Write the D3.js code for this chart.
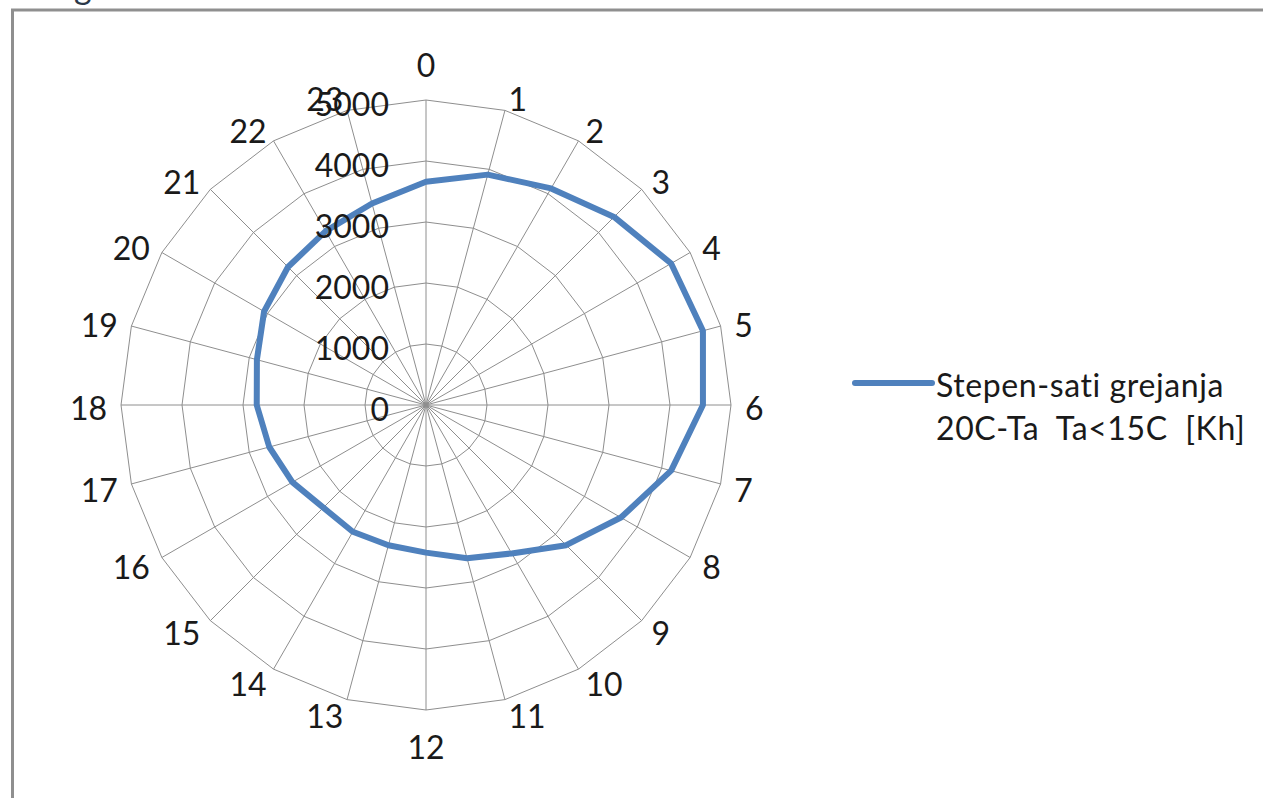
<!DOCTYPE html>
<html>
<head>
<meta charset="utf-8">
<script src="https://cdn.jsdelivr.net/npm/d3@7"></script>
<style>
  html, body { margin: 0; padding: 0; background: #fff; }
  svg { display: block; }
  text { font-family: Lato, "Open Sans", sans-serif; fill: #1a1a1a; }
</style>
</head>
<body>
<svg id="chart" width="1263" height="798"></svg>
<script>
// Hours of the day (radar spokes)
const hours = ["0","1","2","3","4","5","6","7","8","9","10","11",
               "12","13","14","15","16","17","18","19","20","21","22","23"];
// Heating degree-hours per hour of day, 20C - Ta where Ta < 15C [Kh]
const degreeHours = [3660, 3910, 4100, 4360, 4640, 4700, 4540, 4160,
                     3690, 3250, 2810, 2600, 2420, 2380, 2400, 2380,
                     2530, 2660, 2775, 2870, 3065, 3200, 3290, 3420];
// Radial axis ticks
const radialTicks = [0, 1000, 2000, 3000, 4000, 5000];
const seriesName = ["Stepen-sati grejanja", "20C-Ta  Ta<15C  [Kh]"];

const svg = d3.select("#chart");
const cx = 426, cy = 405, R = 305;
const fontSize = 32;

const r = d3.scaleLinear().domain([0, 5000]).range([0, R]);
const angle = d3.scaleLinear().domain([0, hours.length]).range([0, 2 * Math.PI]);

// Frame of the chart area
svg.append("path")
  .attr("d", "M12.5,798 V10 H1263")
  .attr("fill", "none")
  .attr("stroke", "#8f8f8f")
  .attr("stroke-width", 3);

// Heading above the chart frame (only its lower edge is inside the view)
svg.append("text")
  .attr("x", 74).attr("y", -1)
  .attr("font-size", 34)
  .style("fill", "#2b3849")
  .text("g");

const g = svg.append("g").attr("transform", `translate(${cx},${cy})`);

// Polygonal rings
const ringLine = d3.lineRadial()
  .angle((d, i) => angle(i))
  .radius(d => r(d))
  .curve(d3.curveLinearClosed);

g.selectAll("path.ring")
  .data(radialTicks.filter(t => t > 0))
  .join("path")
  .attr("class", "ring")
  .attr("d", t => ringLine(hours.map(() => t)))
  .attr("fill", "none")
  .attr("stroke", "#8e8e8e")
  .attr("stroke-width", 1);

// Spokes
g.selectAll("line.spoke")
  .data(hours)
  .join("line")
  .attr("class", "spoke")
  .attr("x1", 0).attr("y1", 0)
  .attr("x2", (d, i) => Math.sin(angle(i)) * r(5000))
  .attr("y2", (d, i) => -Math.cos(angle(i)) * r(5000))
  .attr("stroke", "#8e8e8e")
  .attr("stroke-width", 1);

// Series line
g.append("path")
  .datum(degreeHours)
  .attr("d", ringLine)
  .attr("fill", "none")
  .attr("stroke", "#4f81bd")
  .attr("stroke-width", 6)
  .attr("stroke-linejoin", "round");

// Radial value labels along the 0 spoke
g.selectAll("text.tick")
  .data(radialTicks)
  .join("text")
  .attr("class", "tick")
  .attr("x", -37)
  .attr("y", t => -r(t) + 3)
  .attr("text-anchor", "end")
  .attr("dominant-baseline", "central")
  .attr("font-size", fontSize)
  .text(t => t);

// Hour labels around the outer ring
const gap = 14;
g.selectAll("text.hour")
  .data(hours)
  .join("text")
  .attr("class", "hour")
  .each(function (d, i) {
    const a = angle(i);
    const s = Math.sin(a), c = Math.cos(a);
    const vx = s * r(5000), vy = -c * r(5000);
    const t = d3.select(this);
    if (i === 0) {
      t.attr("x", vx).attr("y", vy - gap - 22).attr("text-anchor", "middle");
    } else if (i === hours.length / 2) {
      t.attr("x", vx).attr("y", vy + gap + 22).attr("text-anchor", "middle");
    } else {
      t.attr("x", vx + s * gap)
       .attr("y", vy - c * gap + 2)
       .attr("text-anchor", s > 0 ? "start" : "end");
    }
  })
  .attr("dominant-baseline", "central")
  .attr("font-size", fontSize)
  .text(d => d);

// Legend
const lg = svg.append("g").attr("transform", "translate(855,383)");
lg.append("line")
  .attr("x1", 0).attr("x2", 77)
  .attr("y1", 0).attr("y2", 0)
  .attr("stroke", "#4f81bd")
  .attr("stroke-width", 6)
  .attr("stroke-linecap", "round");
const lt = lg.append("text")
  .attr("x", 81)
  .attr("font-size", fontSize)
  .attr("letter-spacing", 0.6)
  .style("white-space", "pre");
lt.selectAll("tspan")
  .data(seriesName)
  .join("tspan")
  .attr("x", 81)
  .attr("y", (d, i) => 14 + i * 43)
  .text(d => d);
</script>
</body>
</html>
